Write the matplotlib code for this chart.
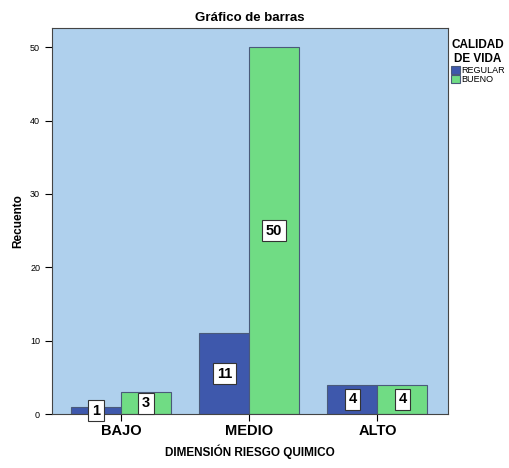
import matplotlib.pyplot as plt
import numpy as np

categorias = ['BAJO', 'MEDIO', 'ALTO']
regular = [1, 11, 4]
bueno = [3, 50, 4]

fig = plt.figure(figsize=(5.09, 4.68), dpi=100)
ax = fig.add_axes([0.102, 0.115, 0.778, 0.825])
ax.set_facecolor('#AFD0ED')

x = np.arange(len(categorias))
w = 0.39
b1 = ax.bar(x - w / 2, regular, w, color='#3E58AC', edgecolor='#4A5A7A', linewidth=0.8, label='REGULAR')
b2 = ax.bar(x + w / 2, bueno, w, color='#70DC84', edgecolor='#4A5A7A', linewidth=0.8, label='BUENO')

box = dict(boxstyle='square,pad=0.25', facecolor='white', edgecolor='#333333', linewidth=0.8)
for xs, vals in ((x - w / 2, regular), (x + w / 2, bueno)):
    for xi, v in zip(xs, vals):
        ax.text(xi, v / 2, str(v), ha='center', va='center', fontsize=10.5,
                fontweight='bold', bbox=box, family='Liberation Sans')

ax.set_xlim(-0.54, 2.55)
ax.set_ylim(0, 52.6)
ax.set_yticks([0, 10, 20, 30, 40, 50])
ax.set_xticks(x)
ax.set_xticklabels(categorias, fontsize=10.5, fontweight='bold', family='Liberation Sans')
ax.tick_params(axis='y', labelsize=6.5, length=5, width=0.8)
ax.tick_params(axis='x', length=5, width=0.8, pad=2)
for t in ax.get_yticklabels():
    t.set_family('Liberation Sans')
for s in ax.spines.values():
    s.set_color('#444444')
    s.set_linewidth(0.8)

ax.set_xlabel('DIMENSIÓN RIESGO QUIMICO', fontsize=8.5, fontweight='bold', family='Liberation Sans', labelpad=5)
ax.set_ylabel('Recuento', fontsize=8.5, fontweight='bold', family='Liberation Sans', labelpad=4)
ax.set_title('Gráfico de barras', fontsize=9.5, fontweight='bold', family='Liberation Sans', pad=5)

leg = ax.legend(loc='upper left', bbox_to_anchor=(0.995, 0.985), frameon=False,
                title='CALIDAD\nDE VIDA', handlelength=1.0, handleheight=1.0,
                handletextpad=0.1, borderaxespad=0.2, labelspacing=0.05,
                prop={'family': 'Liberation Sans', 'size': 6.5})
leg.get_title().set_fontweight('bold')
leg.get_title().set_fontsize(8.5)
leg.get_title().set_family('Liberation Sans')
leg.get_title().set_multialignment('center')
leg._legend_box.align = 'left'

fig.savefig('out.png', dpi=100)
